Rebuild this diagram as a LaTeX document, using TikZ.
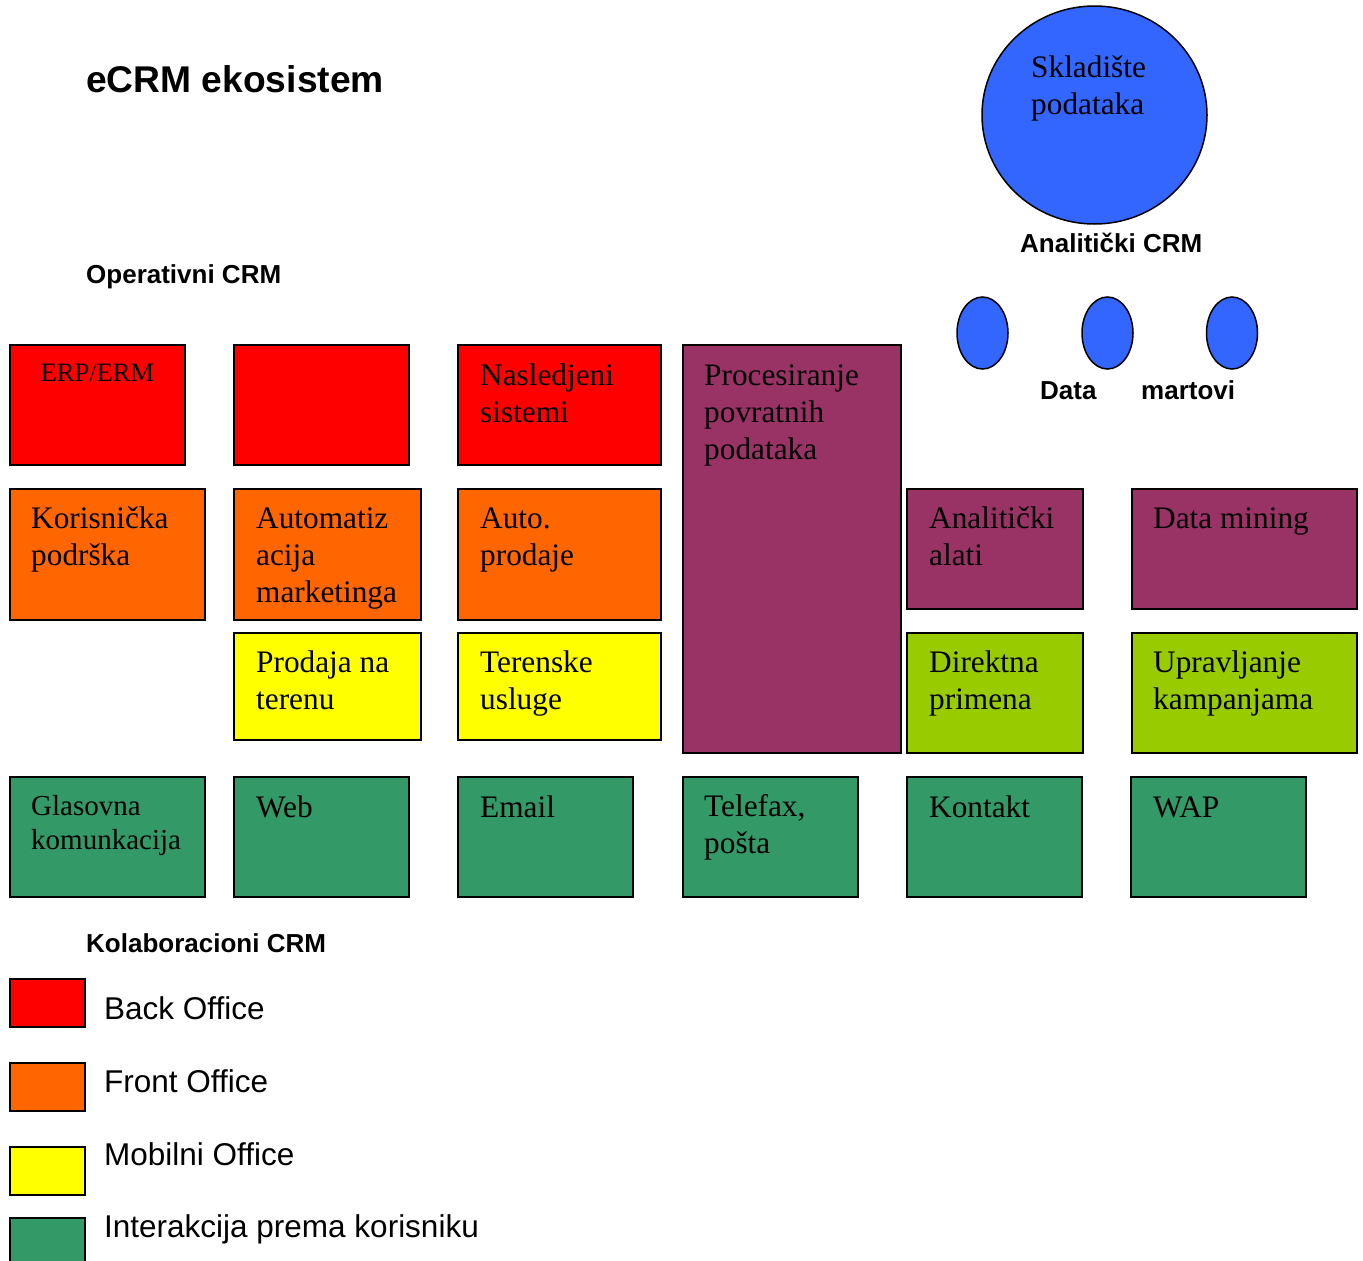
\documentclass[tikz,border=0pt]{standalone}
\usepackage{fontspec}
\setmainfont{Liberation Serif}
\setsansfont{Liberation Sans}
\usetikzlibrary{shapes.geometric}
\definecolor{cred}{HTML}{FF0000}
\definecolor{corange}{HTML}{FF6600}
\definecolor{cyellow}{HTML}{FFFF00}
\definecolor{cpurple}{HTML}{993366}
\definecolor{clime}{HTML}{99CC00}
\definecolor{cteal}{HTML}{339966}
\definecolor{cblue}{HTML}{3366FF}
\tikzset{
  box/.style={draw=black, line width=2pt, fill=#1, rectangle, inner sep=0pt, outer sep=0pt, anchor=north west},
  bt/.style={anchor=north west, inner sep=0pt, align=left, font=\fontsize{31.3}{37}\selectfont},
  gt/.style={anchor=north west, inner sep=0pt, align=left, font=\fontsize{29}{34}\selectfont},
  head/.style={anchor=base west, inner sep=0pt, font=\sffamily\bfseries\fontsize{26}{30}\selectfont},
  leg/.style={anchor=base west, inner sep=0pt, font=\sffamily\fontsize{31.5}{36}\selectfont},
  blob/.style={draw=black, line width=1.5pt, fill=cblue, ellipse, inner sep=0pt}
}
\newcommand{\bx}[6]{\node[box=#1, minimum width=#4-#2, minimum height=#5-#3] (#6) at (#2,#3) {};}
\begin{document}
\begin{tikzpicture}[x=1pt,y=-1pt]
\useasboundingbox (0,0) rectangle (1363,1261);
\clip (0,0) rectangle (1363,1261);
% headings
\node[head, font=\sffamily\bfseries\fontsize{37.2}{42}\selectfont] (title) at (86,92) {eCRM ekosistem};
\node[head] (oper) at (86,283) {Operativni CRM};
\node[head] (anal) at (1020,252) {Analitički CRM};
\node[head] (data) at (1040,399) {Data};
\node[head] (mart) at (1141,399) {martovi};
\node[head] (kolab) at (86,952) {Kolaboracioni CRM};
% warehouse
\node[blob, minimum width=225pt, minimum height=218pt] (wh) at (1094.5,115) {};
\node[bt] (wht) at (1031,51) {\rule{0pt}{26pt}Skladište\\podataka};
\node[blob, minimum width=51pt, minimum height=72pt] (dm1) at (982.5,333) {};
\node[blob, minimum width=51pt, minimum height=72pt] (dm2) at (1107.5,333) {};
\node[blob, minimum width=51pt, minimum height=72pt] (dm3) at (1232,333) {};
% row 1
\bx{cred}{10}{345}{185}{465}{erp}
\bx{cred}{234}{345}{409}{465}{r2}
\bx{cred}{458}{345}{661}{465}{nas}
\bx{cpurple}{683}{345}{901}{753}{proc}
\node[anchor=base, inner sep=0pt, font=\fontsize{26.5}{30}\selectfont] (erpt) at (97.5,381) {ERP/ERM};
\node[bt] (nast) at (480,359) {\rule{0pt}{26pt}Nasledjeni\\sistemi};
\node[bt] (proct) at (704,359) {\rule{0pt}{26pt}Procesiranje\\povratnih\\podataka};
% row 2
\bx{corange}{10}{489}{205}{620}{kor}
\bx{corange}{234}{489}{421}{620}{aut}
\bx{corange}{458}{489}{661}{620}{apr}
\bx{cpurple}{907}{489}{1083}{609}{ala}
\bx{cpurple}{1132}{489}{1357}{609}{dmin}
\node[bt] (kort) at (31,502) {\rule{0pt}{26pt}Korisnička\\podrška};
\node[bt] (autt) at (256,502) {\rule{0pt}{26pt}Automatiz\\acija\\marketinga};
\node[bt] (aprt) at (480,502) {\rule{0pt}{26pt}Auto.\\prodaje};
\node[bt] (alat) at (929,502) {\rule{0pt}{26pt}Analitički\\alati};
\node[bt] (dmint) at (1153,502) {\rule{0pt}{26pt}Data mining};
% row 3
\bx{cyellow}{234}{633}{421}{740}{pnt}
\bx{cyellow}{458}{633}{661}{740}{ter}
\bx{clime}{907}{633}{1083}{753}{dir}
\bx{clime}{1132}{633}{1357}{753}{upr}
\node[bt] (pntt) at (256,646) {\rule{0pt}{26pt}Prodaja na\\terenu};
\node[bt] (tert) at (480,646) {\rule{0pt}{26pt}Terenske\\usluge};
\node[bt] (dirt) at (929,646) {\rule{0pt}{26pt}Direktna\\primena};
\node[bt] (uprt) at (1153,646) {\rule{0pt}{26pt}Upravljanje\\kampanjama};
% row 4
\bx{cteal}{10}{777}{205}{897}{gla}
\bx{cteal}{234}{777}{409}{897}{web}
\bx{cteal}{458}{777}{633}{897}{ema}
\bx{cteal}{683}{777}{858}{897}{tel}
\bx{cteal}{907}{777}{1082}{897}{kon}
\bx{cteal}{1131}{777}{1306}{897}{wap}
\node[gt] (glat) at (31,791) {\rule{0pt}{24pt}Glasovna\\komunkacija};
\node[bt] (webt) at (256,791) {\rule{0pt}{26pt}Web};
\node[bt] (emat) at (480,791) {\rule{0pt}{26pt}Email};
\node[bt] (telt) at (704,790) {\rule{0pt}{26pt}Telefax,\\pošta};
\node[bt] (kont) at (929,791) {\rule{0pt}{26pt}Kontakt};
\node[bt] (wapt) at (1153,791) {\rule{0pt}{26pt}WAP};
% legend
\bx{cred}{10}{979}{85}{1027}{l1}
\bx{corange}{10}{1063}{85}{1111}{l2}
\bx{cyellow}{10}{1147}{85}{1195}{l3}
\bx{cteal}{10}{1218}{85}{1266}{l4}
\node[leg] (l1t) at (104,1019) {Back Office};
\node[leg] (l2t) at (104,1092) {Front Office};
\node[leg] (l3t) at (104,1165) {Mobilni Office};
\node[leg] (l4t) at (104,1237) {Interakcija prema korisniku};
\end{tikzpicture}
\end{document}
